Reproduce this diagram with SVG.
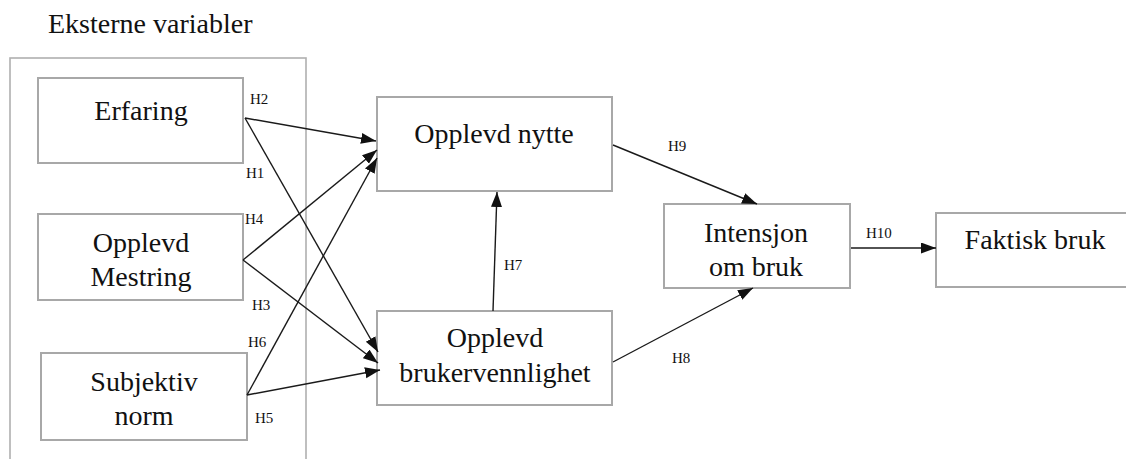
<svg xmlns="http://www.w3.org/2000/svg" width="1126" height="459" viewBox="0 0 1126 459">
  <defs>
    <marker id="arrow" markerUnits="userSpaceOnUse" markerWidth="16" markerHeight="12" refX="15" refY="5.5" orient="auto">
      <path d="M0,0 L15,5.5 L0,11 z" fill="#111"/>
    </marker>
    <style>
      .box { fill: #fff; stroke: #a8a8a8; stroke-width: 2; }
      .frame { fill: none; stroke: #b0b0b0; stroke-width: 1.6; }
      text { font-family: "Liberation Serif", "Times New Roman", Times, Tinos, "Noto Serif", "DejaVu Serif", serif; fill: #111; }
      .lbl { font-size: 28px; text-anchor: middle; }
      .title { font-size: 28px; }
      .h { font-size: 15px; }
      .edge { stroke: #1a1a1a; stroke-width: 1.4; fill: none; marker-end: url(#arrow); }
    </style>
  </defs>
  <rect width="1126" height="459" fill="#fff"/>

  <!-- group of external variables -->
  <g id="eksterne">
    <text class="title" x="48" y="33">Eksterne variabler</text>
    <rect class="frame" x="10" y="58" width="296" height="420"/>
  </g>

  <g id="erfaring">
    <rect class="box" x="38" y="78" width="205" height="85"/>
    <text class="lbl" x="141" y="120">Erfaring</text>
  </g>

  <g id="mestring">
    <rect class="box" x="38" y="214" width="205" height="86"/>
    <text class="lbl" x="141" y="252">Opplevd</text>
    <text class="lbl" x="141" y="286">Mestring</text>
  </g>

  <g id="subjektiv">
    <rect class="box" x="41" y="353" width="206" height="87"/>
    <text class="lbl" x="144" y="391">Subjektiv</text>
    <text class="lbl" x="144" y="425">norm</text>
  </g>

  <g id="nytte">
    <rect class="box" x="377" y="97" width="235" height="94"/>
    <text class="lbl" x="494" y="143">Opplevd nytte</text>
  </g>

  <g id="brukervennlighet">
    <rect class="box" x="377" y="311" width="235" height="94"/>
    <text class="lbl" x="495" y="347">Opplevd</text>
    <text class="lbl" x="495" y="382">brukervennlighet</text>
  </g>

  <g id="intensjon">
    <rect class="box" x="664" y="204" width="186" height="84"/>
    <text class="lbl" x="756" y="242">Intensjon</text>
    <text class="lbl" x="756" y="276">om bruk</text>
  </g>

  <g id="faktisk">
    <rect class="box" x="936" y="213" width="200" height="74"/>
    <text class="lbl" x="1035" y="249">Faktisk bruk</text>
  </g>

  <!-- hypothesis paths -->
  <g id="connectors">
    <line class="edge" x1="245" y1="118" x2="376" y2="141"/>
    <line class="edge" x1="245" y1="118" x2="378" y2="352"/>
    <line class="edge" x1="243" y1="260" x2="377" y2="150"/>
    <line class="edge" x1="243" y1="260" x2="378" y2="363"/>
    <line class="edge" x1="247" y1="395" x2="377" y2="158"/>
    <line class="edge" x1="247" y1="395" x2="380" y2="370"/>
    <line class="edge" x1="493" y1="311" x2="497" y2="192"/>
    <line class="edge" x1="613" y1="145" x2="757" y2="204"/>
    <line class="edge" x1="613" y1="362" x2="753" y2="288"/>
    <line class="edge" x1="851" y1="248" x2="936" y2="248"/>

    <text class="h" x="250" y="104">H2</text>
    <text class="h" x="246" y="178">H1</text>
    <text class="h" x="245" y="224">H4</text>
    <text class="h" x="252" y="310">H3</text>
    <text class="h" x="248" y="347">H6</text>
    <text class="h" x="255" y="423">H5</text>
    <text class="h" x="504" y="270">H7</text>
    <text class="h" x="668" y="151">H9</text>
    <text class="h" x="672" y="363">H8</text>
    <text class="h" x="866" y="238">H10</text>
  </g>
</svg>
